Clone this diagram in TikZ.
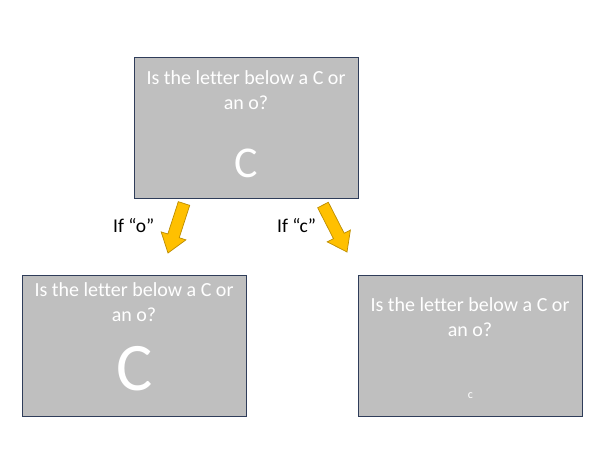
\documentclass[tikz,border=0pt]{standalone}
\usepackage{fontspec}
\setmainfont{Carlito}[Ligatures={NoCommon}]
\usetikzlibrary{calc}
\definecolor{boxfill}{HTML}{BFBFBF}
\definecolor{boxline}{HTML}{2F3D5A}
\definecolor{arrfill}{HTML}{FFC000}
\definecolor{arrline}{HTML}{BC8C00}
\tikzset{
  qbox/.style={draw=boxline, fill=boxfill, line width=0.9pt, minimum width=224pt, minimum height=141pt, inner sep=0pt, anchor=north west},
  qtext/.style={text=white, font=\fontsize{20}{25}\selectfont, anchor=base, inner sep=0pt},
  lbl/.style={text=black, font=\fontsize{19.5}{23}\selectfont, anchor=base west, inner sep=0pt},
  blockarrow/.style={draw=arrline, fill=arrfill, line width=0.7pt, line join=miter}
}
\newcommand{\blockarr}[2]{%
  \path coordinate (h) at ($(#2)!18pt!(#1)$);
  \draw[blockarrow] ($(#1)!6pt!90:(#2)$) -- ($(h)!6pt!90:(#2)$) -- ($(h)!13pt!90:(#2)$) -- (#2)
    -- ($(h)!13pt!-90:(#2)$) -- ($(h)!6pt!-90:(#2)$) -- ($(#1)!6pt!-90:(#2)$) -- cycle;
}
\begin{document}
\begin{tikzpicture}[x=1pt,y=-1pt]
\useasboundingbox (0,0) rectangle (604,470);
% boxes
\node[qbox] (top) at (134,57) {};
\node[qbox] (bl) at (22,275) {};
\node[qbox] (br) at (358,275) {};
% top box text
\node[qtext] (t1) at (246,85) {Is the letter below a C or};
\node[qtext] (t2) at (246,110) {an o?};
\node[qtext, font=\fontsize{44}{50}\selectfont] (tC) at (246,178) {C};
% bottom-left text
\node[qtext] (l1) at (134,296) {Is the letter below a C or};
\node[qtext] (l2) at (134,321) {an o?};
\node[qtext, font=\fontsize{68}{74}\selectfont] (lC) at (135,390) {C};
% bottom-right text
\node[qtext] (r1) at (470,311) {Is the letter below a C or};
\node[qtext] (r2) at (470,336) {an o?};
\node[qtext, font=\fontsize{12}{14}\selectfont] (rc) at (470.5,398) {c};
% arrows
\coordinate (a1t) at (184,203.5);
\coordinate (a1h) at (168,253);
\coordinate (a2t) at (323,205);
\coordinate (a2h) at (347,252);
\blockarr{a1t}{a1h}
\blockarr{a2t}{a2h}
% labels
\node[lbl] (lo) at (113,233) {If “o”};
\node[lbl] (lc) at (277,233) {If “c”};
\end{tikzpicture}
\end{document}
